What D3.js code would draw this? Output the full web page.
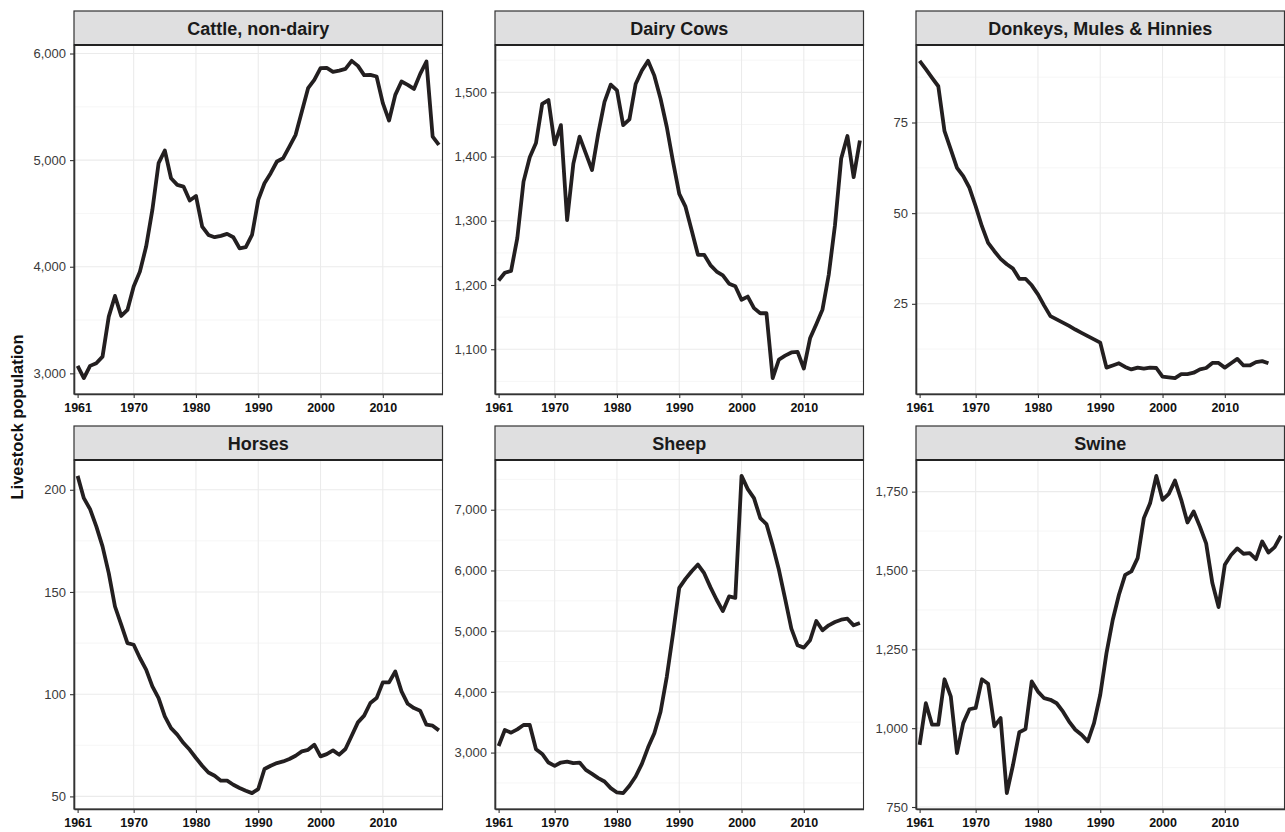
<!DOCTYPE html>
<html>
<head>
<meta charset="utf-8">
<script src="https://cdn.jsdelivr.net/npm/d3@7/dist/d3.min.js"></script>
<style>
  body { margin: 0; background: #fff; }
  svg { display: block; font-family: "Liberation Sans", Arial, Helvetica, sans-serif; }
  .grid-major { stroke: #ebebeb; stroke-width: 1.1; }
  .grid-minor { stroke: #f4f4f4; stroke-width: 0.8; }
  .series { fill: none; stroke: #231f20; stroke-width: 3.8; stroke-linejoin: round; stroke-linecap: butt; }
</style>
</head>
<body>
<div id="chart"></div>
<script>
// years 1961-2019
const years = d3.range(1961, 2020);

const cattle = [3070, 2955, 3070, 3095, 3157, 3532, 3726, 3538, 3595, 3814,
  3954, 4189, 4533, 4971, 5090, 4830, 4768, 4752, 4621, 4664,
  4377, 4298, 4277, 4289, 4308, 4277, 4173, 4183, 4298, 4627,
  4783, 4877, 4987, 5018, 5127, 5237, 5456, 5675, 5753, 5862,
  5865, 5828, 5840, 5856, 5931, 5884, 5797, 5800, 5784, 5534,
  5371, 5612, 5737, 5706, 5668, 5809, 5925, 5221, 5143];

const dairy = [1207, 1219, 1222, 1273, 1361, 1399, 1421, 1482, 1488, 1419,
  1449, 1301, 1389, 1431, 1405, 1379, 1436, 1485, 1512, 1503,
  1449, 1458, 1513, 1534, 1549, 1526, 1490, 1446, 1392, 1342,
  1322, 1285, 1247, 1247, 1231, 1221, 1215, 1202, 1198, 1177,
  1182, 1164, 1156, 1156, 1055, 1084, 1090, 1095, 1096, 1070,
  1117, 1139, 1162, 1216, 1293, 1397, 1432, 1368, 1425];

// ends in 2017
const donkeys = [92.0, 89.7, 87.3, 85.0, 72.6, 67.6, 62.5, 60.2, 57.0, 51.9,
  46.4, 41.8, 39.5, 37.4, 35.9, 34.7, 31.9, 31.9, 30.1, 27.6,
  24.5, 21.6, 20.7, 19.8, 18.9, 17.9, 17.0, 16.1, 15.2, 14.3,
  7.4, 8.0, 8.6, 7.6, 6.9, 7.4, 7.1, 7.4, 7.3, 4.9,
  4.7, 4.5, 5.6, 5.6, 6.0, 6.9, 7.3, 8.7, 8.7, 7.4,
  8.6, 9.8, 8.0, 8.0, 8.9, 9.2, 8.6];

const horses = [206.8, 195.9, 190.5, 182.1, 172.3, 159.2, 142.9, 134.0, 125.0, 124.2,
  117.7, 112.0, 103.8, 98.1, 89.1, 83.4, 80.2, 76.1, 72.8, 68.8,
  65.0, 61.7, 60.1, 57.7, 57.7, 55.7, 54.1, 52.8, 51.6, 53.6,
  63.4, 65.0, 66.3, 67.1, 68.3, 69.9, 72.0, 72.8, 75.3, 69.6,
  70.7, 72.5, 70.4, 73.2, 79.7, 86.2, 89.5, 95.7, 98.1, 105.8,
  105.8, 111.1, 101.4, 95.3, 93.2, 91.9, 85.1, 84.6, 82.3];

const sheep = [3109, 3372, 3328, 3383, 3454, 3454, 3055, 2978, 2836, 2781,
  2836, 2852, 2825, 2836, 2715, 2650, 2579, 2524, 2415, 2343,
  2332, 2453, 2606, 2814, 3087, 3317, 3673, 4248, 4959, 5714,
  5862, 5988, 6097, 5955, 5725, 5517, 5331, 5572, 5550, 7558,
  7339, 7192, 6863, 6765, 6409, 6010, 5533, 5041, 4767, 4729,
  4850, 5167, 5014, 5096, 5150, 5189, 5205, 5096, 5134];

const swine = [947, 1079, 1011, 1011, 1155, 1101, 921, 1016, 1060, 1064,
  1155, 1141, 1006, 1032, 794, 884, 987, 997, 1148, 1116,
  1095, 1090, 1079, 1053, 1021, 995, 979, 958, 1016, 1106,
  1238, 1343, 1423, 1486, 1497, 1539, 1666, 1713, 1800, 1724,
  1743, 1785, 1724, 1652, 1687, 1639, 1586, 1460, 1384, 1518,
  1549, 1570, 1553, 1555, 1536, 1592, 1557, 1574, 1610];

const panelNames = ["Cattle, non-dairy", "Dairy Cows", "Donkeys, Mules & Hinnies", "Horses", "Sheep", "Swine"];
const panelValues = [cattle, dairy, donkeys, horses, sheep, swine];
const yTicks = [
  [3000, 4000, 5000, 6000],
  [1100, 1200, 1300, 1400, 1500],
  [25, 50, 75],
  [50, 100, 150, 200],
  [3000, 4000, 5000, 6000, 7000],
  [750, 1000, 1250, 1500, 1750]
];
const xTicks = [1961, 1970, 1980, 1990, 2000, 2010];
const xGrid = [1970, 1980, 1990, 2000, 2010];
const yTitle = "Livestock population";

// layout
const W = 1285, H = 832;
const colLeft = [74, 495, 916];
const rowTop = [11, 426];
const panelW = 368.5, stripH = 34, panelH = 349;

const svg = d3.select('#chart').append('svg')
  .attr('width', W).attr('height', H);

// shared x scale domain, ggplot-style expansion
const xExt = d3.extent(years);
const xPad = (xExt[1] - xExt[0]) * 0.01;
const fmt = d3.format(',');

panelNames.forEach((name, i) => {
  const col = i % 3, row = Math.floor(i / 3);
  const left = colLeft[col];
  const top = rowTop[row] + stripH;
  const data = panelValues[i].map((v, k) => ({ year: years[k], value: v }));

  const x = d3.scaleLinear()
    .domain([xExt[0] - xPad, xExt[1] + xPad])
    .range([left, left + panelW]);

  const yExt = d3.extent(data, d => d.value);
  const yPad = (yExt[1] - yExt[0]) * 0.05;
  const y = d3.scaleLinear()
    .domain([yExt[0] - yPad, yExt[1] + yPad])
    .range([top + panelH, top]);

  const g = svg.append('g');

  // minor grid: midpoints between major breaks
  const ticks = yTicks[i];
  const step = ticks[1] - ticks[0];
  const minor = d3.range(ticks[0] - step / 2, ticks[ticks.length - 1] + step, step)
    .filter(v => v > y.domain()[0] && v < y.domain()[1]);
  g.selectAll('.gm').data(minor).enter().append('line')
    .attr('class', 'grid-minor')
    .attr('x1', left).attr('x2', left + panelW)
    .attr('y1', d => y(d)).attr('y2', d => y(d));

  g.selectAll('.gy').data(ticks).enter().append('line')
    .attr('class', 'grid-major')
    .attr('x1', left).attr('x2', left + panelW)
    .attr('y1', d => y(d)).attr('y2', d => y(d));

  g.selectAll('.gx').data(xGrid).enter().append('line')
    .attr('class', 'grid-major')
    .attr('x1', d => x(d)).attr('x2', d => x(d))
    .attr('y1', top).attr('y2', top + panelH);

  // series
  g.append('path')
    .datum(data)
    .attr('class', 'series')
    .attr('d', d3.line().x(d => x(d.year)).y(d => y(d.value)));

  // panel border
  g.append('rect')
    .attr('x', left).attr('y', top)
    .attr('width', panelW).attr('height', panelH)
    .attr('fill', 'none').attr('stroke', '#333').attr('stroke-width', 1.1);

  // strip
  g.append('rect')
    .attr('x', left).attr('y', rowTop[row])
    .attr('width', panelW).attr('height', stripH)
    .attr('fill', '#dfdfe0').attr('stroke', '#333').attr('stroke-width', 1.2);
  g.append('line')
    .attr('x1', left).attr('x2', left + panelW)
    .attr('y1', top).attr('y2', top)
    .attr('stroke', '#222').attr('stroke-width', 2);
  g.append('text')
    .attr('x', left + panelW / 2).attr('y', rowTop[row] + stripH / 2 + 6.5)
    .attr('text-anchor', 'middle')
    .attr('font-size', 18).attr('font-weight', 'bold').attr('fill', '#1a1a1a')
    .text(name);

  // axes
  const yAxis = g.append('g')
    .attr('transform', `translate(${left},0)`)
    .call(d3.axisLeft(y).tickValues(ticks).tickFormat(fmt).tickSizeInner(4).tickSizeOuter(0).tickPadding(4));
  yAxis.select('.domain').attr('stroke', '#333').attr('stroke-width', 1.6);
  yAxis.selectAll('.tick line').attr('stroke', '#333').attr('stroke-width', 1.1);
  yAxis.selectAll('text').attr('font-size', 13).attr('fill', '#3a3a3a')
    .attr('font-family', '"Liberation Sans", Arial, sans-serif');

  const xAxis = g.append('g')
    .attr('transform', `translate(0,${top + panelH})`)
    .call(d3.axisBottom(x).tickValues(xTicks).tickFormat(d3.format('d')).tickSizeInner(4).tickSizeOuter(0).tickPadding(5.5));
  xAxis.select('.domain').attr('stroke', '#333').attr('stroke-width', 1.6);
  xAxis.selectAll('.tick line').attr('stroke', '#333').attr('stroke-width', 1.1);
  xAxis.selectAll('text').attr('font-size', 12.5).attr('font-weight', 'bold').attr('fill', '#111')
    .attr('font-family', '"Liberation Sans", Arial, sans-serif');
});

// y axis title
svg.append('text')
  .attr('transform', `translate(23,417) rotate(-90)`)
  .attr('text-anchor', 'middle')
  .attr('font-size', 16.5).attr('font-weight', 'bold').attr('fill', '#111')
  .text(yTitle);
</script>
</body>
</html>
